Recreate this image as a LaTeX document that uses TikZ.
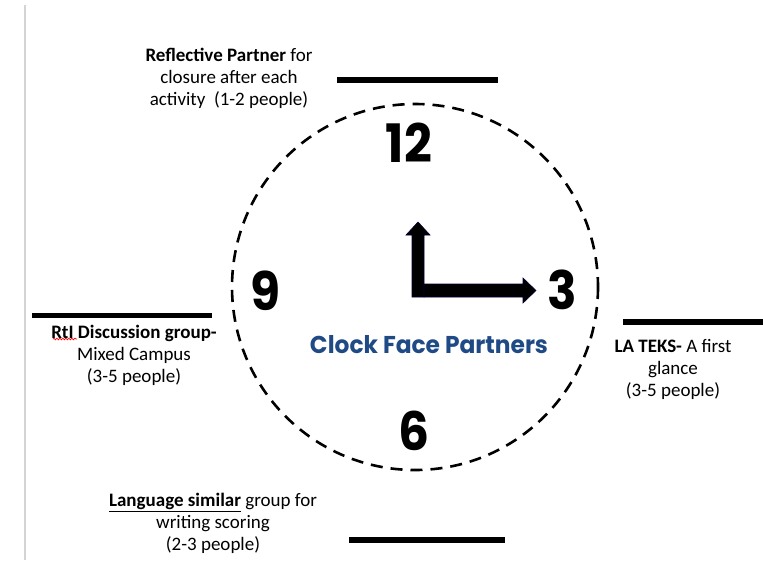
\documentclass[tikz,border=0pt]{standalone}
\usepackage{fontspec}
\setmainfont{Carlito}
\newfontfamily\numfont{Poppins}
\newfontfamily\titlefont{Poppins}
\usetikzlibrary{decorations.pathmorphing}
\definecolor{titleblue}{HTML}{1F4A85}
\definecolor{edgegray}{HTML}{D4D4D4}
\newcommand{\clockdigits}[1]{\scalebox{0.92}[1]{#1}}
\tikzset{
  rulebar/.style={line width=5.5pt},
  hourmark/.style={font=\numfont\bfseries\fontsize{53}{53}\selectfont, inner sep=0pt},
  grouplabel/.style={font=\fontsize{19}{22}\selectfont, align=center, inner sep=0pt},
  clockface/.style={dashed, dash pattern=on 12pt off 8pt, line width=2.6pt},
  hand/.style={fill=black, draw=black!80!blue, line width=0.6pt},
}
\begin{document}
\begin{tikzpicture}[x=1pt,y=-1pt]
\useasboundingbox (0,0) rectangle (763,560);
\fill[white] (0,0) rectangle (763,560);
% page edge
\draw[edgegray, line width=1.5pt] (25,5) -- (25,560);

% clock face
\coordinate (hub) at (415,287);
\draw[clockface] (hub) circle[radius=183];

% hour marks
\node[hourmark] (h12) at (409,143) {\clockdigits{12}};
\node[hourmark] (h9) at (265,291) {\clockdigits{9}};
\node[hourmark] (h3) at (562,290) {\clockdigits{3}};
\node[hourmark] (h6) at (414,431) {\clockdigits{6}};

% hands
\fill[hand] (412,297) -- (412,235) -- (406,235) -- (418,222) -- (430,235) -- (424,235) -- (424,297) -- cycle;
\fill[hand] (424,284) -- (523,284) -- (523,278) -- (536,290.5) -- (523,303) -- (523,297) -- (424,297) -- cycle;

% title
\node[inner sep=0pt, text=titleblue] (title) at (429,345)
  {\resizebox{238pt}{18pt}{\titlefont\bfseries Clock Face Partners}};

% rules
\coordinate (t1) at (337,80); \coordinate (t2) at (498,80);
\coordinate (l1) at (32,315.5); \coordinate (l2) at (212,315.5);
\coordinate (r1) at (623,322); \coordinate (r2) at (763,322);
\coordinate (b1) at (349,540); \coordinate (b2) at (505,540);
\draw[rulebar] (t1) -- (t2);
\draw[rulebar] (l1) -- (l2);
\draw[rulebar] (r1) -- (r2);
\draw[rulebar] (b1) -- (b2);

% labels
\node[grouplabel] (top) at (229,78)
  {\textbf{Reflective Partner} for\\closure after each\\activity\ \ (1-2 people)};
\node[grouplabel] (left) at (134,355)
  {\textbf{RtI Discussion group-}\\Mixed Campus\\(3-5 people)};
\node[grouplabel] (right) at (673,369)
  {\textbf{LA TEKS-} A first\\glance\\(3-5 people)};
\node[grouplabel] (bottom) at (213,523)
  {\textbf{\underline{Language similar}} group for\\writing scoring\\(2-3 people)};

% spell-check squiggle under RtI
\coordinate (sq1) at (53,339); \coordinate (sq2) at (77,339);
\draw[red, line width=0.7pt, decorate, decoration={snake, amplitude=0.8pt, segment length=3pt}] (sq1) -- (sq2);
\end{tikzpicture}
\end{document}
